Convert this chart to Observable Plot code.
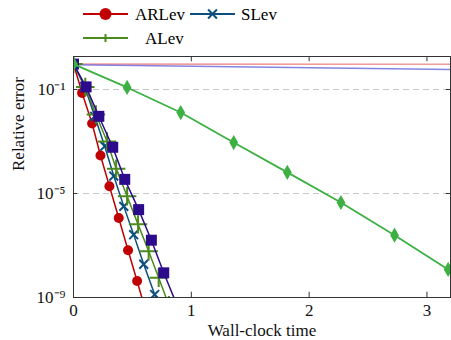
<!DOCTYPE html>
<html><head><meta charset="utf-8">
<script src="https://cdn.jsdelivr.net/npm/d3@7"></script>
<script src="https://cdn.jsdelivr.net/npm/@observablehq/plot@0.6"></script>
<style>
body{margin:0;background:#fff;font-family:"Liberation Serif",serif;}
#legend{display:block;width:451px;height:48px;}
#chart svg{display:block;}
</style></head>
<body>
<svg id="legend" width="451" height="48"></svg>
<div id="chart"></div>
<script>
// ---- data ----
const arTime = [0, 0.073, 0.158, 0.229, 0.305, 0.384, 0.463, 0.54, 0.618];
const arErr  = [0.95, 7.4e-2, 4.9e-3, 2.9e-4, 1.9e-5, 1.15e-6, 6.6e-8, 4.3e-9, 2.5e-10];
const sTime  = [0, 0.095, 0.18, 0.265, 0.342, 0.427, 0.511, 0.596, 0.689, 0.77];
const sErr   = [0.95, 1.3e-1, 9.3e-3, 6.6e-4, 4.7e-5, 3.2e-6, 2.6e-7, 1.9e-8, 1.3e-9, 1.0e-10];
const aTime  = [0, 0.1, 0.19, 0.285, 0.362, 0.455, 0.548, 0.638, 0.723, 0.81];
const aErr   = [0.95, 1.26e-1, 1.1e-2, 1.0e-3, 8.9e-5, 7.9e-6, 6.5e-7, 6.0e-8, 5.8e-9, 5.0e-10];
const sqTime = [0, 0.107, 0.215, 0.333, 0.435, 0.553, 0.661, 0.766, 0.87];
const sqErr  = [0.95, 1.26e-1, 9.3e-3, 6.0e-4, 3.5e-5, 2.4e-6, 1.6e-7, 8.9e-9, 6.3e-10];
const dmTime = [0, 0.455, 0.91, 1.36, 1.815, 2.27, 2.725, 3.18];
const dmErr  = [0.95, 1.2e-1, 1.3e-2, 9.1e-4, 6.5e-5, 4.5e-6, 2.5e-7, 1.2e-8];
const flatRedTime = [0, 3.3];
const flatRedErr  = [0.95, 0.94];
const flatBlueTime = [0, 3.3];
const flatBlueErr  = [0.9, 0.58];
const xTicks = [0, 1, 2, 3];
const yTicks = [1e-1, 1e-5, 1e-9];
const yTickLabels = ["10⁻¹", "10⁻⁵", "10⁻⁹"];
const legendNames = ["ARLev", "SLev", "ALev"];

const rows = (ts, es) => ts.map((t, i) => ({t, e: es[i]}));

const C = {
  ar: "#c00000", s: "#0c4f7d", a: "#4b8a1f", sq: "#2c0a8c", dm: "#3cb043",
  lr: "#f08a8a", lb: "#6f6fe0"
};

// ---- legend ----
const lg = d3.select("#legend");
function swatch(x, y, color, sym, r, fill) {
  lg.append("line").attr("x1", x).attr("x2", x + 45).attr("y1", y).attr("y2", y)
    .attr("stroke", color).attr("stroke-width", 2);
  lg.append("path").attr("transform", `translate(${x + 22.5},${y})`)
    .attr("d", d3.symbol(sym, Math.PI * r * r)())
    .attr("fill", fill ? color : "none").attr("stroke", fill ? "none" : color)
    .attr("stroke-width", 2);
}
swatch(83, 14, C.ar, d3.symbolCircle, 6, true);
lg.append("text").attr("x", 135).attr("y", 20).text(legendNames[0]).style("font-size", "17px");
swatch(190, 14, C.s, d3.symbolTimes, 4.1, false);
lg.append("text").attr("x", 241).attr("y", 20).text(legendNames[1]).style("font-size", "17px");
swatch(83, 38, C.a, d3.symbolPlus, 2.7, false);
lg.append("text").attr("x", 145).attr("y", 44).text(legendNames[2]).style("font-size", "17px");

// ---- chart ----
const yTop = 1.86, yBot = 1e-9;
const chart = Plot.plot({
  width: 451, height: 292,
  marginTop: 8, marginLeft: 73, marginRight: 1, marginBottom: 43,
  style: {fontFamily: "Liberation Serif, serif", fontSize: "17px", color: "#111", background: "#fff"},
  x: {domain: [0, 3.2]},
  y: {type: "log", domain: [yBot, yTop]},
  marks: [
    Plot.ruleY([1e-1, 1e-5], {stroke: "#c8c8c8", strokeDasharray: "6,4", strokeWidth: 1}),
    Plot.line(rows(flatRedTime, flatRedErr), {x: "t", y: "e", stroke: C.lr, strokeWidth: 1.6, strokeOpacity: 0.85, clip: true}),
    Plot.line(rows(flatBlueTime, flatBlueErr), {x: "t", y: "e", stroke: C.lb, strokeWidth: 1.6, strokeOpacity: 0.85, clip: true}),

    Plot.line(rows(arTime, arErr), {x: "t", y: "e", stroke: C.ar, strokeWidth: 1.5, clip: true}),
    Plot.dot(rows(arTime, arErr), {x: "t", y: "e", symbol: "circle", r: 5, fill: C.ar, clip: true}),

    Plot.line(rows(sTime, sErr), {x: "t", y: "e", stroke: C.s, strokeWidth: 1.5, clip: true}),
    Plot.dot(rows(sTime, sErr), {x: "t", y: "e", symbol: "times", r: 4.1, stroke: C.s, strokeWidth: 2, clip: true}),

    Plot.line(rows(aTime, aErr), {x: "t", y: "e", stroke: C.a, strokeWidth: 1.5, clip: true}),
    Plot.dot(rows(aTime, aErr), {x: "t", y: "e", symbol: "plus", r: 6, stroke: C.a, strokeWidth: 2, clip: true}),

    Plot.line(rows(sqTime, sqErr), {x: "t", y: "e", stroke: C.sq, strokeWidth: 1.5, clip: true}),
    Plot.dot(rows(sqTime, sqErr), {x: "t", y: "e", symbol: "square", r: 6.2, fill: C.sq, clip: true}),

    Plot.line(rows(dmTime, dmErr), {x: "t", y: "e", stroke: C.dm, strokeWidth: 1.8, clip: true}),
    Plot.dot(rows(dmTime, dmErr), {x: "t", y: "e", symbol: "diamond", r: 4.6, fill: C.dm, clip: true}),

    // inward ticks
    Plot.ruleY(yTicks, {x1: 0, x2: 0.035, stroke: "#333"}),
    Plot.ruleY([1e-1, 1e-5], {x1: 3.165, x2: 3.2, stroke: "#333"}),
    Plot.ruleX([1, 2, 3], {y1: yBot, y2: yBot * 1.6, stroke: "#333"}),
    Plot.ruleX([1, 2, 3], {y1: yTop, y2: yTop / 1.6, stroke: "#333"}),
    Plot.frame({stroke: "#333", strokeWidth: 1}),

    Plot.axisX({ticks: xTicks, tickSize: 0, tickPadding: 6, label: null, tickFormat: d => String(d)}),
    Plot.axisY({ticks: yTicks, tickSize: 0, tickPadding: 8, label: null,
      tickFormat: d => yTickLabels[yTicks.findIndex(v => Math.abs(Math.log10(v) - Math.log10(d)) < 1e-6)]}),
    Plot.text(["Wall-clock time"], {frameAnchor: "bottom", dy: 38, fontSize: 17}),
    Plot.text(["Relative error"], {frameAnchor: "left", dx: -55, dy: -6, rotate: -90, fontSize: 17})
  ]
});
document.getElementById("chart").appendChild(chart);
</script>
</body></html>
